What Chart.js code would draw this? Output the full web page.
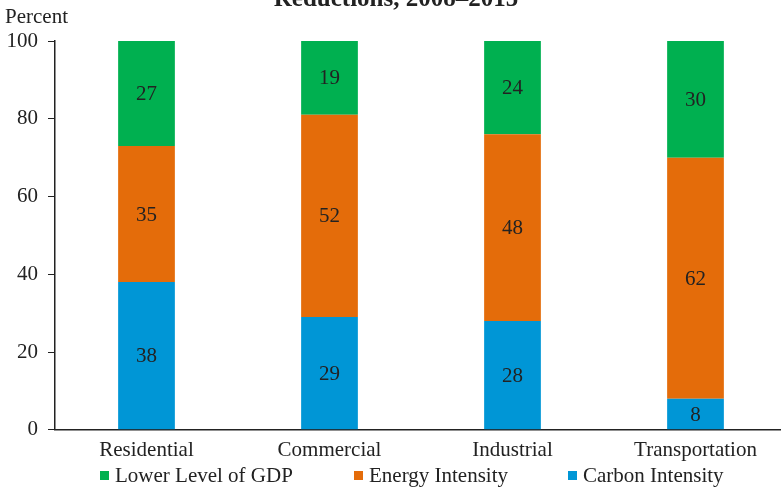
<!DOCTYPE html>
<html>
<head>
<meta charset="utf-8">
<script src="https://cdn.jsdelivr.net/npm/chart.js"></script>
<style>
  html, body { margin: 0; padding: 0; background: #fff; overflow: hidden; }
  /* the x axis runs past the right edge of the picture, so the canvas is a bit wider */
  #wrap { width: 787px; height: 489px; }
</style>
</head>
<body>
<div id="wrap"><canvas id="chart"></canvas></div>
<script>
// categories and values (percent of reduction)
const categories = ["Residential", "Commercial", "Industrial", "Transportation"];
const carbonIntensity = [38, 29, 28, 8];
const energyIntensity = [35, 52, 48, 62];
const lowerGdp = [27, 19, 24, 30];
const yTicks = [0, 20, 40, 60, 80, 100];

const FONT = "'Liberation Serif', 'Times New Roman', serif";
const TEXT = "#222";

// draws the number in the middle of each bar segment
const barLabels = {
  id: "barLabels",
  afterDatasetsDraw(chart) {
    const ctx = chart.ctx;
    ctx.save();
    ctx.font = "21px " + FONT;
    ctx.fillStyle = TEXT;
    ctx.textAlign = "center";
    ctx.textBaseline = "middle";
    chart.data.datasets.forEach((ds, i) => {
      chart.getDatasetMeta(i).data.forEach((bar, j) => {
        const p = bar.getProps(["x", "y", "base"], true);
        ctx.fillText(String(ds.data[j]), p.x, (p.y + p.base) / 2 + 1);
      });
    });
    ctx.restore();
  },
};

// cut-off title, "Percent" caption and the legend row at the bottom
const captions = {
  id: "captions",
  afterDraw(chart) {
    const ctx = chart.ctx;
    ctx.save();
    ctx.fillStyle = TEXT;
    ctx.font = "bold 25px " + FONT;
    ctx.textAlign = "center";
    ctx.textBaseline = "alphabetic";
    ctx.fillText("Reductions, 2008\u20132015", 396, 6);

    ctx.font = "21px " + FONT;
    ctx.textAlign = "left";
    ctx.fillText("Percent", 5, 23);

    // legend: top dataset first
    const starts = [100, 354, 568];
    const items = chart.data.datasets.slice().reverse();
    ctx.textBaseline = "middle";
    items.forEach((ds, k) => {
      const x = starts[k];
      ctx.fillStyle = ds.backgroundColor;
      ctx.fillRect(x, 471, 9, 9);
      ctx.fillStyle = TEXT;
      ctx.fillText(ds.label, x + 15, 476);
    });
    ctx.restore();
  },
};

new Chart(document.getElementById("chart"), {
  type: "bar",
  data: {
    labels: categories,
    datasets: [
      { label: "Carbon Intensity", data: carbonIntensity, backgroundColor: "rgb(0,150,214)" },
      { label: "Energy Intensity", data: energyIntensity, backgroundColor: "rgb(228,108,10)" },
      { label: "Lower Level of GDP", data: lowerGdp, backgroundColor: "rgb(0,176,80)" },
    ],
  },
  options: {
    responsive: true,
    maintainAspectRatio: false,
    animation: false,
    datasets: {
      bar: { categoryPercentage: 1, barPercentage: 0.31 },
    },
    layout: { padding: { top: 41, left: 6, right: 0, bottom: 26 } },
    plugins: {
      tooltip: { enabled: false },
      legend: { display: false },
    },
    scales: {
      x: {
        stacked: true,
        grid: { display: false },
        border: { display: true, color: TEXT, width: 1.5 },
        ticks: { color: TEXT, font: { family: FONT, size: 21 }, padding: 0 },
      },
      y: {
        stacked: true,
        min: 0,
        max: 100,
        afterBuildTicks(axis) {
          axis.ticks = yTicks.map((v) => ({ value: v }));
        },
        afterFit(axis) {
          axis.width = 49;
        },
        grid: { drawOnChartArea: false, drawTicks: true, tickLength: 7, color: TEXT },
        border: { display: true, color: TEXT, width: 1.5 },
        ticks: { color: TEXT, font: { family: FONT, size: 21 }, padding: 10 },
      },
    },
  },
  plugins: [barLabels, captions],
});
</script>
</body>
</html>
